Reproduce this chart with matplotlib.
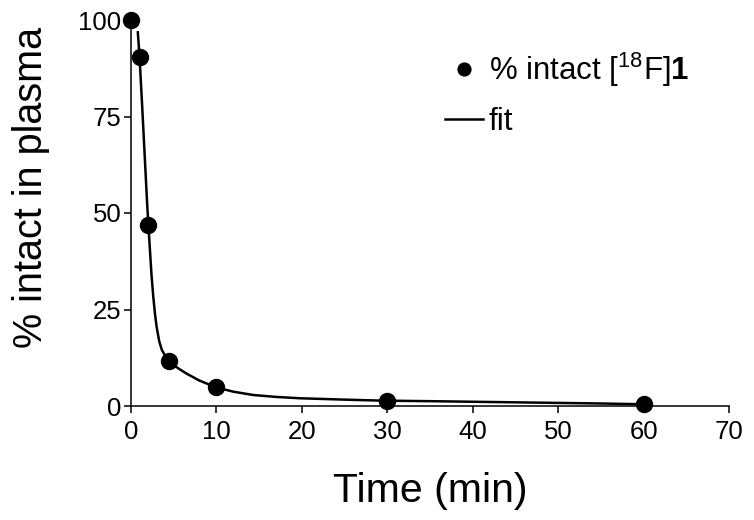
import matplotlib
matplotlib.use("Agg")
import matplotlib.pyplot as plt

plt.rcParams["font.family"] = ["Liberation Sans", "DejaVu Sans"]
plt.rcParams["mathtext.fontset"] = "custom"
plt.rcParams["mathtext.rm"] = "Liberation Sans"
plt.rcParams["mathtext.bf"] = "Liberation Sans:bold"

# measured points
time_min = [0, 1, 2, 4.5, 10, 30, 60]
pct_intact = [100, 90.5, 47, 11.6, 4.8, 1.3, 0.5]

# fit curve
fit_time = [0.8, 1.0, 1.3, 1.6, 1.9, 2.2, 2.4, 2.6, 2.8, 3.0, 3.3, 3.6, 4.0, 4.5, 5.5, 6.5, 8.0,
            10, 12, 14.3, 17, 19.8, 25, 29.2, 35, 40, 45, 50, 55, 60]
fit_pct = [96.8, 90.5, 78, 65, 52, 41, 34, 28.5, 24, 20.5, 16.8, 14.6, 13.0, 11.6, 9.8, 8.4, 6.6,
           4.8, 3.7, 2.85, 2.35, 2.0, 1.65, 1.4, 1.25, 1.1, 0.95, 0.8, 0.65, 0.45]

fig = plt.figure(figsize=(7.54, 5.2), dpi=100)
ax = fig.add_axes([131 / 754, (520 - 406) / 520, 598 / 754, 386 / 520])

ax.plot(fit_time, fit_pct, color="black", lw=1.8, label="fit", zorder=2)
ax.plot(time_min, pct_intact, "o", color="black", ms=11.5, clip_on=False,
        label="% intact [$^{18}$F]$\\mathbf{1}$", zorder=3)

ax.set_xlim(0, 70)
ax.set_ylim(0, 100)
ax.set_xticks(range(0, 71, 10))
ax.set_yticks([0, 25, 50, 75, 100])
for s in ["top", "right"]:
    ax.spines[s].set_visible(False)
for s in ["left", "bottom"]:
    ax.spines[s].set_linewidth(1.1)
ax.tick_params(labelsize=18.5, width=1.1, length=5)
ax.tick_params(axis="y", pad=2)
ax.tick_params(axis="x", pad=5)

ax.set_xlabel("Time (min)", fontsize=29.5, labelpad=20)
ax.set_ylabel("% intact in plasma", fontsize=28.5)
ax.yaxis.set_label_coords(-0.135, 0.565)

h, l = ax.get_legend_handles_labels()
fig.legend(h[::-1], l[::-1], loc="upper left", bbox_to_anchor=(445 / 754, 1 - 51 / 520),
           frameon=False, fontsize=22.5, handlelength=1.2, handletextpad=0.2,
           labelspacing=0.58, borderpad=0, borderaxespad=0, markerscale=0.8)

fig.savefig("out.png", dpi=100)
